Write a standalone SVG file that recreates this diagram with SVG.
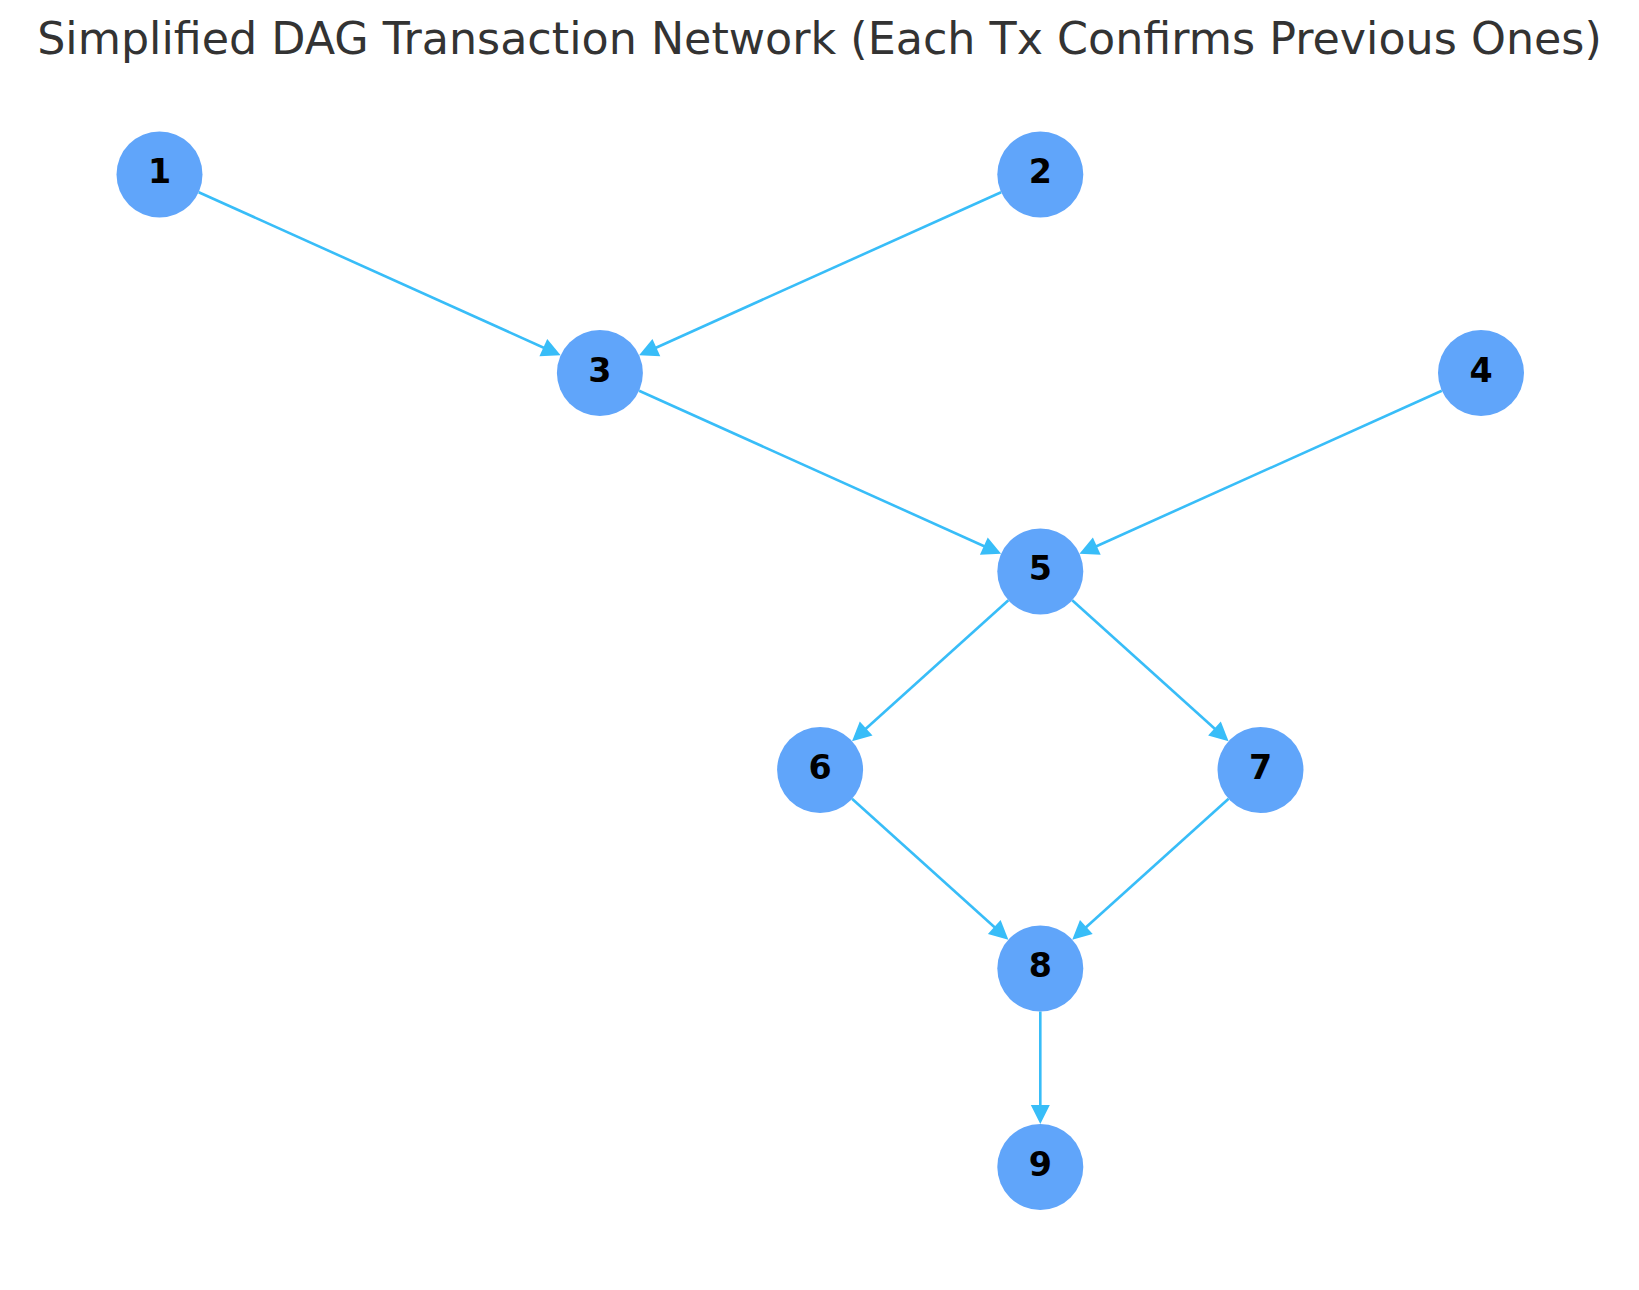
<svg xmlns="http://www.w3.org/2000/svg" width="1639" height="1290" viewBox="0 0 1639 1290">
<style>
.title{font-family:"DejaVu Sans",sans-serif;font-size:44.4px;fill:#333333}
.node circle{fill:#60a5fa}
.node text{font-family:"DejaVu Sans",sans-serif;font-size:33.3px;font-weight:bold;fill:#000000;text-anchor:middle}
.edge{stroke:#38bdf8;stroke-width:2.6;fill:none;marker-end:url(#arr)}
</style>
<defs>
<marker id="arr" markerUnits="userSpaceOnUse" viewBox="-16 -10 22 20" refX="0" refY="0" markerWidth="22" markerHeight="20" orient="auto">
<path d="M-15,-9.5 L4,0 L-15,9.5 z" fill="#38bdf8"/>
</marker>
</defs>
<rect width="1639" height="1290" fill="#ffffff"/>
<text class="title" x="819.5" y="53.5" text-anchor="middle">Simplified DAG Transaction Network (Each Tx Confirms Previous Ones)</text>
<g id="connectors">
<line class="edge" x1="198.7" y1="192.2" x2="557.0" y2="353.7"/>
<line class="edge" x1="1001.1" y1="192.2" x2="642.7" y2="353.7"/>
<line class="edge" x1="639.1" y1="390.7" x2="997.5" y2="552.2"/>
<line class="edge" x1="1441.8" y1="390.7" x2="1083.1" y2="552.2"/>
<line class="edge" x1="1008.4" y1="600.3" x2="855.0" y2="738.5"/>
<line class="edge" x1="1072.2" y1="600.3" x2="1225.6" y2="738.5"/>
<line class="edge" x1="852.0" y1="798.8" x2="1005.4" y2="937.0"/>
<line class="edge" x1="1228.6" y1="798.8" x2="1075.2" y2="937.0"/>
<line class="edge" x1="1040.3" y1="1011.5" x2="1040.3" y2="1120"/>
</g>
<g id="node1" class="node"><circle cx="159.5" cy="174.5" r="43"/><text x="159.5" y="183">1</text></g>
<g id="node2" class="node"><circle cx="1040.3" cy="174.5" r="43"/><text x="1040.3" y="183">2</text></g>
<g id="node3" class="node"><circle cx="599.9" cy="373" r="43"/><text x="599.9" y="381.5">3</text></g>
<g id="node4" class="node"><circle cx="1481" cy="373" r="43"/><text x="1481" y="381.5">4</text></g>
<g id="node5" class="node"><circle cx="1040.3" cy="571.5" r="43"/><text x="1040.3" y="580">5</text></g>
<g id="node6" class="node"><circle cx="820.1" cy="770" r="43"/><text x="820.1" y="778.5">6</text></g>
<g id="node7" class="node"><circle cx="1260.5" cy="770" r="43"/><text x="1260.5" y="778.5">7</text></g>
<g id="node8" class="node"><circle cx="1040.3" cy="968.5" r="43"/><text x="1040.3" y="977">8</text></g>
<g id="node9" class="node"><circle cx="1040.3" cy="1167" r="43"/><text x="1040.3" y="1175.5">9</text></g>
</svg>
